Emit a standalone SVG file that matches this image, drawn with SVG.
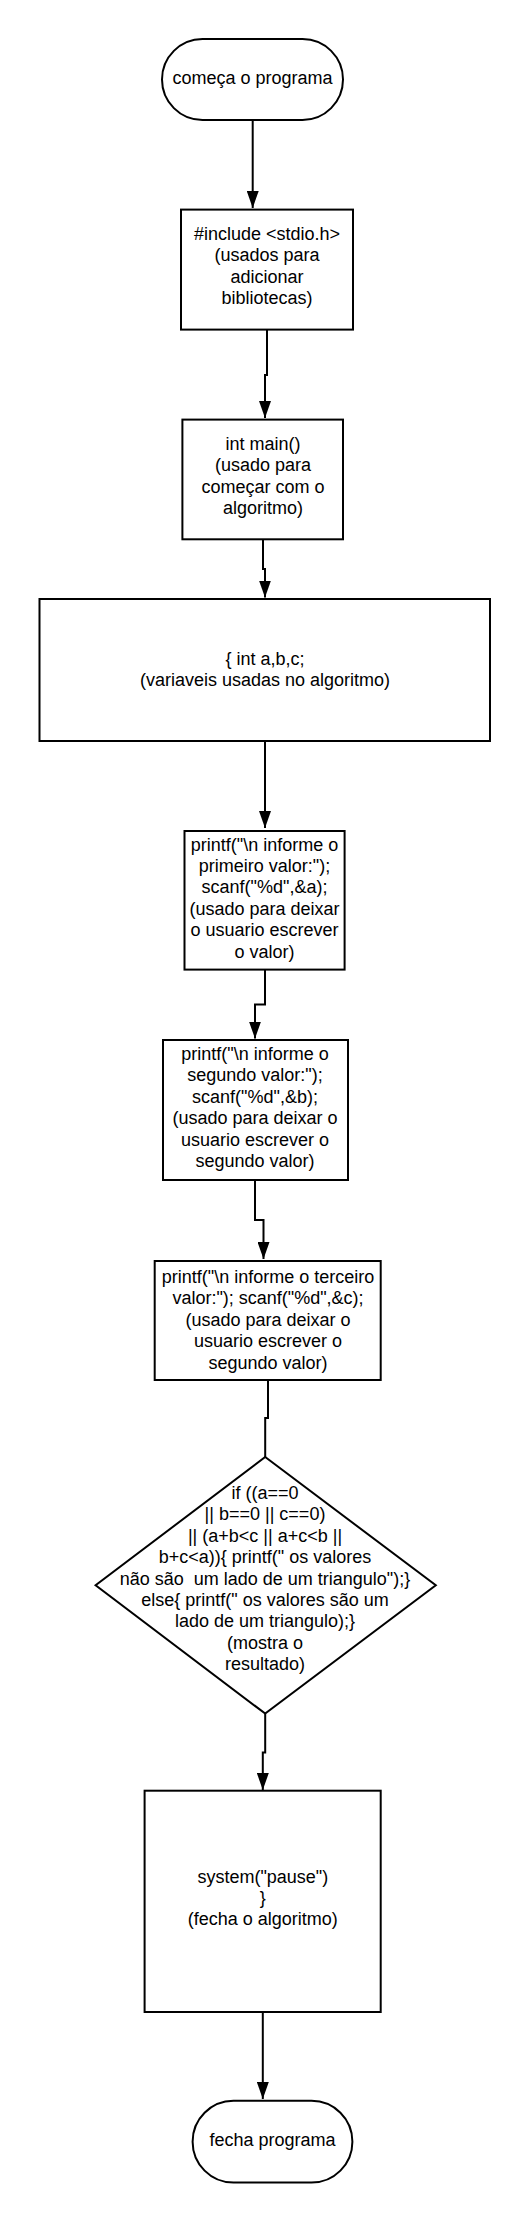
<svg xmlns="http://www.w3.org/2000/svg" width="530" height="2220" viewBox="0 0 530 2220">
<style>
.shape{fill:#fff;stroke:#000;stroke-width:2}
.t{font-family:"Liberation Sans",Arial,sans-serif;font-size:18px;fill:#000;text-anchor:middle}
.c{fill:none;stroke:#000;stroke-width:2}
.a{marker-end:url(#arr)}
</style>
<defs>
<marker id="arr" markerUnits="userSpaceOnUse" markerWidth="18" markerHeight="12" refX="17" refY="6" orient="auto">
<path d="M0,0 L17,6 L0,12 Z" fill="#000"/>
</marker>
</defs>
<rect width="530" height="2220" fill="#fff"/>
<g id="connectors">
<path class="c a" d="M252.7,120 V208"/>
<path class="c a" d="M267,330 V375 H265 V418"/>
<path class="c a" d="M263,539.3 V569 H265 V597.5"/>
<path class="c a" d="M265,741 V828"/>
<path class="c a" d="M265,969.6 V1004.6 H255 V1038.6"/>
<path class="c a" d="M255,1180 V1220 H263.5 V1259"/>
<path class="c" d="M268,1380 V1418 H265.2 V1457"/>
<path class="c a" d="M265.2,1713.6 V1752.5 H262.8 V1790"/>
<path class="c a" d="M262.8,2012 V2099"/>
</g>
<g id="start">
<rect class="shape" x="162" y="39" width="181" height="81" rx="40.5"/>
<text class="t" x="252.6" y="84">começa o programa</text>
</g>
<g id="include">
<rect class="shape" x="181" y="209.6" width="172" height="120"/>
<text class="t"><tspan x="267" y="240">#include &lt;stdio.h&gt;</tspan><tspan x="267" y="261.4">(usados para</tspan><tspan x="267" y="282.8">adicionar</tspan><tspan x="267" y="304.2">bibliotecas)</tspan></text>
</g>
<g id="main">
<rect class="shape" x="182.4" y="419.6" width="160.6" height="119.7"/>
<text class="t"><tspan x="263" y="450">int main()</tspan><tspan x="263" y="471.4">(usado para</tspan><tspan x="263" y="492.8">começar com o</tspan><tspan x="263" y="514.2">algoritmo)</tspan></text>
</g>
<g id="vars">
<rect class="shape" x="39.5" y="599" width="450.5" height="142"/>
<text class="t"><tspan x="265" y="665">{ int a,b,c;</tspan><tspan x="265" y="686.4">(variaveis usadas no algoritmo)</tspan></text>
</g>
<g id="read-a">
<rect class="shape" x="184.5" y="831" width="160.1" height="138.6"/>
<text class="t"><tspan x="264.5" y="850.6">printf("\n informe o</tspan><tspan x="264.5" y="872">primeiro valor:");</tspan><tspan x="264.5" y="893.4">scanf("%d",&amp;a);</tspan><tspan x="264.5" y="914.8">(usado para deixar</tspan><tspan x="264.5" y="936.2">o usuario escrever</tspan><tspan x="264.5" y="957.6">o valor)</tspan></text>
</g>
<g id="read-b">
<rect class="shape" x="163" y="1040" width="185" height="140"/>
<text class="t"><tspan x="255" y="1060">printf("\n informe o</tspan><tspan x="255" y="1081.4">segundo valor:");</tspan><tspan x="255" y="1102.8">scanf("%d",&amp;b);</tspan><tspan x="255" y="1124.2">(usado para deixar o</tspan><tspan x="255" y="1145.6">usuario escrever o</tspan><tspan x="255" y="1167">segundo valor)</tspan></text>
</g>
<g id="read-c">
<rect class="shape" x="154.7" y="1261" width="226" height="119"/>
<text class="t"><tspan x="268" y="1283">printf("\n informe o terceiro</tspan><tspan x="268" y="1304.4">valor:"); scanf("%d",&amp;c);</tspan><tspan x="268" y="1325.8">(usado para deixar o</tspan><tspan x="268" y="1347.2">usuario escrever o</tspan><tspan x="268" y="1368.6">segundo valor)</tspan></text>
</g>
<g id="decision">
<polygon class="shape" points="265.2,1457 435.8,1585.3 265.2,1713.6 95.6,1585.3"/>
<text class="t"><tspan x="265" y="1499">if ((a==0</tspan><tspan x="265" y="1520.4">|| b==0 || c==0)</tspan><tspan x="265" y="1541.8">|| (a+b&lt;c || a+c&lt;b ||</tspan><tspan x="265" y="1563.2">b+c&lt;a)){ printf(" os valores</tspan><tspan x="265" y="1584.6" style="white-space:pre">não são  um lado de um triangulo");}</tspan><tspan x="265" y="1606">else{ printf(" os valores são um</tspan><tspan x="265" y="1627.4">lado de um triangulo);}</tspan><tspan x="265" y="1648.8">(mostra o</tspan><tspan x="265" y="1670.2">resultado)</tspan></text>
</g>
<g id="pause">
<rect class="shape" x="144.6" y="1790.7" width="236.1" height="221.3"/>
<text class="t"><tspan x="262.8" y="1882.6">system("pause")</tspan><tspan x="262.8" y="1904">}</tspan><tspan x="262.8" y="1925.4">(fecha o algoritmo)</tspan></text>
</g>
<g id="end">
<rect class="shape" x="192.6" y="2100.8" width="159.8" height="81.8" rx="40.9"/>
<text class="t" x="272.5" y="2145.7">fecha programa</text>
</g>
</svg>
